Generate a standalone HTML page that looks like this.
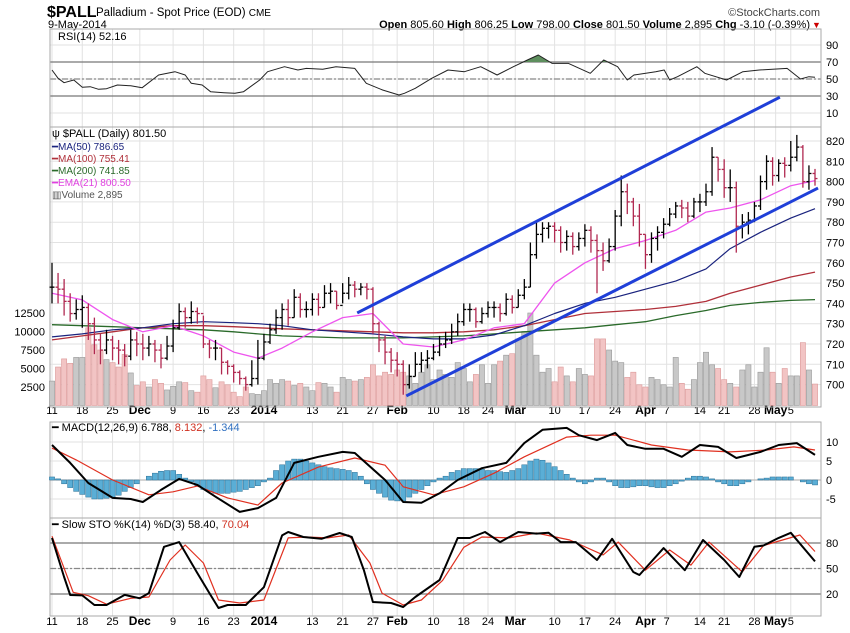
<!DOCTYPE html>
<html><head><meta charset="utf-8"><style>
body{margin:0;background:#fff}
svg{display:block;font-family:"Liberation Sans",sans-serif}
</style></head><body>
<svg id="c" width="850" height="633" viewBox="0 0 850 633">
<rect x="0" y="0" width="850" height="633" fill="#fff"/>
<g>
<text x="47" y="17" font-size="16" font-weight="bold">$PALL</text>
<text x="96" y="16" font-size="11.5">Palladium - Spot Price (EOD) <tspan font-size="10">CME</tspan></text>
<text x="820" y="16" font-size="11" text-anchor="end" fill="#444">©StockCharts.com</text>
<text x="48" y="28" font-size="11">9-May-2014</text>
<text x="810" y="28" font-size="11" text-anchor="end"><tspan font-weight="bold">Open</tspan> 805.60 <tspan font-weight="bold">High</tspan> 806.25 <tspan font-weight="bold">Low</tspan> 798.00 <tspan font-weight="bold">Close</tspan> 801.50 <tspan font-weight="bold">Volume</tspan> 2,895 <tspan font-weight="bold">Chg</tspan> -3.10 (-0.39%)</text>
<text x="812" y="28" font-size="9" fill="#c00">▼</text>
</g>
<g id="grid"></g>
<g id="marks"></g>
<g id="legend" font-size="10">
<text x="58" y="40" font-size="11">RSI(14) 52.16</text>
<text x="52" y="137" font-size="11">ψ $PALL (Daily) 801.50</text>
<text x="52" y="150" fill="#1a237e">━MA(50) 786.65</text>
<text x="52" y="162" fill="#b0303a">━MA(100) 755.41</text>
<text x="52" y="174" fill="#2a6a2a">━MA(200) 741.85</text>
<text x="52" y="186" fill="#e040e0">━EMA(21) 800.50</text>
<text x="52" y="198" fill="#555">▥Volume 2,895</text>
<text x="52" y="431" font-size="11">━ MACD(12,26,9) 6.788, <tspan fill="#d03020">8.132</tspan>, <tspan fill="#3070c0">-1.344</tspan></text>
<text x="52" y="528" font-size="11">━ Slow STO %K(14) %D(3) 58.40, <tspan fill="#d03020">70.04</tspan></text>
</g>
</svg>
<script>
const closes=[748,747,741,735,737,738,730,722,717,722,718,717,714,722,720,718,720,717,713,719,728,736,733,736,735,720,718,718,711,709,706,703,700,703,713,721,727,733,737,733,743,737,737,742,738,745,746,739,745,749,747,748,747,730,722,716,712,710,700,704,710,712,713,716,720,722,726,731,737,737,731,735,738,738,735,742,738,744,748,764,774,777,778,776,770,773,768,772,776,771,766,761,768,783,795,790,783,774,764,772,775,779,784,788,787,783,790,790,795,812,806,797,797,778,780,781,788,800,810,803,809,808,812,817,800,804,801.5];
const highs=[760,755,752,745,742,744,740,733,725,727,724,722,720,727,726,725,724,722,720,724,732,740,738,741,738,734,722,722,718,712,710,707,704,712,722,725,730,737,740,742,747,745,741,745,745,749,750,746,750,753,751,750,750,748,731,724,718,716,712,710,716,716,717,720,724,726,730,735,740,740,738,738,741,741,740,745,744,747,752,770,780,780,780,780,778,776,775,775,779,778,774,770,772,786,803,799,792,789,774,775,778,782,787,790,791,790,792,794,799,817,812,811,806,800,784,785,790,803,813,812,811,812,820,823,818,808,806.25];
const lows=[740,740,734,731,732,728,722,715,710,715,712,710,709,712,714,712,714,711,708,712,716,727,728,730,730,718,713,712,705,705,701,700,697,699,700,712,720,725,727,729,733,733,733,734,734,738,740,737,740,742,743,744,742,725,716,710,706,704,695,698,704,706,708,712,714,718,720,724,729,731,728,730,733,733,731,734,735,738,742,748,762,770,772,770,765,766,764,766,768,765,745,756,760,766,778,784,778,768,757,760,766,772,778,782,782,780,782,785,788,793,800,792,790,765,772,774,780,786,796,798,800,802,805,810,797,796,798];
const volumes=[3.3,5.2,6.3,5.7,6.5,6.5,10.5,8.2,7.5,6.2,5.8,5.2,6.9,4.4,2.7,3.2,2.5,3.5,3.0,2.1,2.6,3.2,3.1,2.0,1.8,4.0,3.5,2.4,3.2,2.8,1.8,1.2,2.5,1.6,1.5,2.0,3.5,3.0,3.5,3.3,2.7,3.0,2.5,2.0,3.1,3.0,2.5,1.8,3.8,3.5,3.3,3.5,3.8,5.5,4.0,4.5,4.2,4.8,4.5,4.0,3.0,4.5,5.5,3.5,4.8,4.2,3.8,5.8,5.0,3.2,4.2,5.5,3.0,5.5,6.0,6.8,7.0,9.0,10.0,12.5,6.8,4.5,5.0,3.2,5.2,4.0,3.2,5.0,4.2,4.0,9.0,9.0,7.5,6.0,5.8,3.8,4.5,2.8,2.5,3.8,3.5,2.8,2.5,6.5,3.0,2.2,3.5,5.8,7.2,5.5,5.0,3.5,3.0,2.5,4.8,5.5,2.5,4.5,7.8,4.5,3.0,5.0,4.0,4.0,8.5,4.8,2.9];
const maIdx=[0,5,10,15,20,25,30,34,38,43,48,53,58,63,68,73,78,83,88,93,98,103,108,112,117,122,126];
const ma50=[723.5,725,727,728,730,731,730.5,730,729,727,726,725,723.5,722.5,722.5,724.5,729,735,740,743,747,751,757,767,775,782,786.65];
const ma100=[722,724,726,728,729,729,728.5,728,727.5,727,726.5,726,725.5,725.5,726,727,729,732,735,736,737,738.5,741,745,749,753,755.41];
const ma200=[729.5,729,728.5,728,727.5,727,726,725,724,723.5,723,723,723,723.5,724,725,726,727,728,729.5,731,734,736.5,739,740.5,741.5,741.85];
const ema21=[745,741.7,732,726,729,724,716,713,718,726,733,735,720,718.5,722,728,730,750,760,767,771,776,785,787,791,798,800.5];
const rsiIdx=[0,1,2,3.6,5,6.3,7.7,9,10.8,13,14.9,17.6,20.3,22,23,24.8,26.2,28.4,30.2,31.6,34.3,35.6,38.4,40.6,42,44.7,46.9,50,51.9,54.6,57.3,58.2,60,62.7,65.4,68.1,70.8,73.5,76.2,78.5,80.3,82.6,85.3,88.9,91.1,93.4,95,96.1,99.7,101.1,102,103.3,106.5,107.8,111.4,114.1,116.8,121.4,123.6,125,126];
const rsiVal=[60.6,50.8,45.7,48.8,40.2,41,37.9,38.6,43,42,39.8,54.7,58.6,54.7,45,43,35,33.9,33.2,35,48.8,58.6,64.5,60.6,62.5,61.4,64.5,62.5,45,37,31.2,33.2,39,50.8,60.6,58.6,64.5,54.7,64.5,72.4,78.2,68.4,68.4,56.7,72.4,64.5,48.8,54.7,58.6,60.6,48.8,52.7,64.5,56.7,48.8,58.6,60.6,62.5,50,52.7,52.16];
const macdIdx=[0,3,6,10,13,15,18,21,24,27,31,34,37,40,44,48,50,55,58,61,64,67,71,75,78,81,85,87,90,93,95,98,101,104,107,110,113,117,120,123,126];
const macdVal=[9.2,4.5,-0.8,-4.7,-5,-5.8,-2.6,0.3,-1.3,-4.4,-8.4,-7.4,-4.7,4.5,6.1,7.4,7.1,0,-5.8,-6,-3.5,0,3.1,4.5,9.7,13.2,13.7,11.8,10.5,12.4,9.2,8.2,8.2,6.1,9.2,8.7,5.8,7.4,9.2,9.7,6.6];
const sigIdx=[0,4,10,16,20,24,29,34,38,44,50,55,58,63,68,73,78,85,89,93,99,105,112,118,122.5,126];
const sigVal=[8.4,5.3,0,-3.9,-3.1,-1.6,-4.7,-6.6,-0.8,3.4,5.8,3.9,-1.8,-3.9,-1.8,1.8,6.1,11.3,11.8,11.8,9.2,7.9,7.4,7.9,8.7,7.9];
const histVal=[0.8,0.3,-1,-2,-3,-3.8,-4.5,-5,-5,-4.8,-4.5,-4,-3,-2,-1,0,1,1.8,2.3,2.5,2.5,1.5,0.5,-0.5,-1.5,-2.5,-3,-3.5,-3.5,-3.5,-3.2,-3,-2.5,-2,-1.5,-0.5,0.5,2.5,4,5,5.5,5.5,5,4.5,4,3.5,3.2,3,2.8,2.5,2,1,-1,-2.5,-3.5,-4.5,-5.3,-5.5,-5.5,-4.5,-3.5,-2.5,-1.5,-0.5,0.5,1,2,2.5,3,3,3,2.8,2.5,2.5,2.2,2,2.5,3,4,5,5.5,5.2,4.5,3.5,2.5,1.5,0.5,-0.5,-1,-0.5,0.5,0.5,-0.5,-1.5,-2,-2,-1.8,-1.5,-1.5,-1.8,-2,-2,-1.5,-1,-0.3,0.5,1,1,0.8,0.3,-0.5,-1,-1.5,-1.5,-1,-0.5,0,0.3,0.5,0.8,0.8,0.8,0.8,0,-0.5,-1,-1.3];
const kIdx=[0,2,3,5,7,9,12,14.5,16,18.5,21,24,26,27.5,29,32,35,38,39,41.5,44.5,47.5,49.5,51.5,53,56,58,60,64,67,69,71.5,74,77,80,82,84,86.5,90,92.5,96,97,101,104.5,107.5,111,113.5,116,117.5,120,122,126];
const kVal=[85.9,40,18.8,18.4,7,7,19,15,21,75.5,81,44.7,21,3.5,7,7,28,89,93,87,85,91.8,87,48,10.6,9.4,4.7,16.5,36.5,85.9,85.9,93,81,93,91,92,81,81,60,85,45.9,42.4,74,48,83.5,60,40,75.5,77,86,92,58.4];
const dIdx=[0,3.5,6,9,13,16,19.5,22,25,27.5,31,35,39,42,45.5,49,52.5,54.5,58,61,64.5,68,71,75.5,80,85.5,91,93.5,98,102,105.5,108.5,114,117.5,123.5,126];
const dVal=[88,22,18,8,15,16.5,60,77.6,56.5,13,9.4,13,86,87,86,89.4,56.5,21,7,13,36,75,87,86,91.8,83.5,66,81,48,71.8,54,81,46,77,89.4,70];
const dateLabels=["11","18","25","Dec","9","16","23","2014","13","21","27","Feb","10","18","24","Mar","10","17","24","Apr","7","14","21","28","May","5"];
const dateIdx=[0,5,10,14.5,20,25,30,35,43,48,53,57,63,68,72,76.5,83,88,93,98,101.5,107,111,116,119.5,122];
const monthFlags=[0,0,0,1,0,0,0,1,0,0,0,1,0,0,0,1,0,0,0,1,0,0,0,0,1,0];
const priceTicks=[700,710,720,730,740,750,760,770,780,790,800,810,820];
const volTicks=[2500,5000,7500,10000,12500];
const rsiTicks=[10,30,50,70,90];
const macdTicks=[-5,0,5,10];
const stoTicks=[20,50,80];
const trendUpperIdx=[50.4,120.2], trendUpperPx=[735.3,841.6];
const trendLowerIdx=[58.5,126.5], trendLowerPx=[694.4,796.8];

const NS="http://www.w3.org/2000/svg";
const L=50,R=821;
const X=i=>52+i*(815-52)/126;
const yP=p=>141+(820-p)*2.03;
const yV=v=>405.5-v*0.0074;
const yR=v=>62+(70-v)*0.85;
const yM=v=>480-v*3.8;
const yS=v=>543+(80-v)*0.85;
const grid=document.getElementById('grid'), marks=document.getElementById('marks');
function el(tag,attrs,parent){const e=document.createElementNS(NS,tag);for(const k in attrs)e.setAttribute(k,attrs[k]);(parent||marks).appendChild(e);return e;}
function txt(s,x,y,attrs,parent){const t=el('text',Object.assign({x:x,y:y,'font-size':11},attrs||{}),parent||grid);t.textContent=s;return t;}
const panels=[[29,127,'rsi-panel'],[127,407,'price-panel'],[422,518,'macd-panel'],[518,616,'sto-panel']];
dateIdx.forEach((d,j)=>{
  panels.forEach(p=>{const g=el('line',{x1:X(d),x2:X(d),y1:p[0],y2:p[1],stroke:'#e2e2e2'},grid);
    
    });
  [414,625].forEach(yy=>{const t=txt(dateLabels[j],X(d),yy,{'text-anchor':'middle','font-weight':monthFlags[j]?'bold':'normal','font-size':monthFlags[j]?12:11});
    
    });
});
function hgrid(ticks,f,lab,col){ticks.forEach(v=>{const g=el('line',{x1:L,x2:R,y1:f(v),y2:f(v),stroke:col||'#e2e2e2'},grid);
  
  
  if(lab){const t=txt(String(v),826,f(v)+4,{});
  
  }});}
hgrid(priceTicks,yP,true);
hgrid(rsiTicks,yR,true);
hgrid(macdTicks,yM,true);
hgrid(stoTicks,yS,true);
volTicks.forEach(v=>{const t=txt(String(v),45,yV(v)+4,{'text-anchor':'end'});
  
  });
[[yR(70),'#777',''],[yR(30),'#777',''],[yR(50),'#888','6,2,2,2'],[yS(80),'#777',''],[yS(20),'#777',''],[yS(50),'#888','6,2,2,2'],[yM(0),'#bbb','']].forEach(r=>{
  const g=el('line',{x1:L,x2:R,y1:r[0],y2:r[0],stroke:r[1],'stroke-width':1.3,'stroke-dasharray':r[2]},grid);
  
  });
panels.forEach(p=>{const b=el('rect',{x:L,y:p[0],width:R-L,height:p[1]-p[0],fill:'none',stroke:'#aaa'},grid);
  
  });
volumes.forEach((v,i)=>{const dn=i>0&&closes[i]<closes[i-1];
  const b=el('rect',{x:X(i)-2.6,y:yV(v*1000),width:5.2,height:405.5-yV(v*1000),fill:dn?'#f2c4c4':'#c8c8c8',stroke:dn?'#dc9a9a':'#999','stroke-width':0.6});
  
  });
function line(idx,vals,fx,fy,col,w,name){const pts=idx.map((d,j)=>fx(d).toFixed(1)+','+fy(vals[j]).toFixed(1)).join(' ');
  const p=el('polyline',{points:pts,fill:'none',stroke:col,'stroke-width':w,'stroke-linejoin':'round'});
  
  return p;}
line(maIdx,ma200,X,yP,'#2a6a2a',1.3,'ma200-line');
line(maIdx,ma100,X,yP,'#b0303a',1.3,'ma100-line');
line(maIdx,ma50,X,yP,'#1a237e',1.2,'ma50-line');
line(maIdx,ema21,X,yP,'#ee55ee',1.3,'ema21-line');
closes.forEach((c,i)=>{const dn=i>0&&c<closes[i-1];const col=dn?'#b02850':'#000';const x=X(i);
  const o=i>0?closes[i-1]:c;
  const g=el('g',{stroke:col,'stroke-width':1.3});
  
  
  el('line',{x1:x,x2:x,y1:yP(highs[i]),y2:yP(lows[i])},g);
  el('line',{x1:x-2.5,x2:x,y1:yP(o),y2:yP(o)},g);
  el('line',{x1:x,x2:x+2.5,y1:yP(c),y2:yP(c)},g);});
[[trendUpperIdx,trendUpperPx,'upper-trendline'],[trendLowerIdx,trendLowerPx,'lower-trendline']].forEach(t=>{
  const l=el('line',{x1:X(t[0][0]),y1:yP(t[1][0]),x2:X(t[0][1]),y2:yP(t[1][1]),stroke:'#1f3fd8','stroke-width':3});
  
  });
const cp=el('clipPath',{id:'ob'});el('rect',{x:L,y:29,width:R-L,height:yR(70)-29},cp);
const fpts=rsiIdx.map((d,j)=>X(d).toFixed(1)+','+yR(rsiVal[j]).toFixed(1)).join(' ')+' '+X(126)+','+yR(70)+' '+X(0)+','+yR(70);
const fill=el('polygon',{points:fpts,fill:'#5e8f5e','clip-path':'url(#ob)'});


line(rsiIdx,rsiVal,X,yR,'#222',1,'rsi-line');
histVal.forEach((v,i)=>{const y0=yM(0),y1=yM(v);
  const b=el('rect',{x:X(i)-2.6,y:Math.min(y0,y1),width:5.2,height:Math.abs(y1-y0),fill:'#5aaed6',stroke:'#2a6f95','stroke-width':0.5});
  
  });
line(sigIdx,sigVal,X,yM,'#e03020',1.2,'macd-signal-line');
line(macdIdx,macdVal,X,yM,'#000',2,'macd-line');
line(dIdx,dVal,X,yS,'#e03020',1.2,'sto-d-line');
line(kIdx,kVal,X,yS,'#000',2,'sto-k-line');
</script>
</body></html>
